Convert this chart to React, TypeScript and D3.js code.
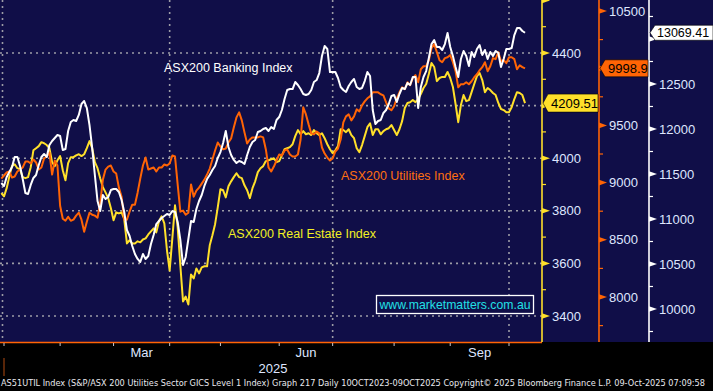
import React from 'react';
import * as d3 from 'd3';

const W = 713;
const H = 391;

// daily closes, one per ASX trading day; index 0 = first session of 2025, first value is 31 Dec 2024
const FIRST_DAY = -1;

const banking = [
  11400, 11367, 11467, 11522, 11578, 11689, 11689, 11589, 11444, 11289,
  11278, 11378, 11456, 11489, 11600, 11689, 11722, 11689, 11822, 11867,
  11900, 11933, 11922, 11767, 11778, 11978, 12078, 12100, 12089, 12156,
  12278, 12311, 12233, 12044, 11789, 11489, 11200, 11089, 11267, 11222,
  11244, 11322, 11333, 11333, 11300, 11211, 11078, 10878, 10811, 10700,
  10611, 10556, 10522, 10611, 10556, 10589, 10722, 10822, 10944, 10978,
  11011, 11033, 11056, 11044, 11089, 11078, 10967, 10767, 10489, 10578,
  10778, 10978, 10967, 11111, 11200, 11267, 11367, 11444, 11489, 11544,
  11589, 11678, 11744, 11844, 11978, 11800, 11711, 11656, 11622, 11644,
  11633, 11611, 11711, 11800, 11856, 11878, 11967, 11978, 12000, 12011,
  11978, 12022, 12000, 12100, 12133, 12211, 12333, 12433, 12444, 12444,
  12522, 12489, 12444, 12389, 12378, 12389, 12433, 12522, 12544, 12622,
  12811, 12922, 12889, 12633, 12633, 12633, 12567, 12467, 12433, 12411,
  12478, 12522, 12556, 12467, 12444, 12456, 12533, 12633, 12589, 12211,
  12056, 12089, 12100, 12178, 12211, 12278, 12367, 12378, 12300, 12389,
  12456, 12444, 12511, 12489, 12578, 12578, 12233, 12467, 12578, 12644,
  12789, 12944, 12989, 12911, 12911, 12878, 12944, 13067, 12911, 12811,
  12689, 12578, 12778, 12867, 12811, 12700, 12856, 12800, 12889, 12933,
  12822, 12878, 12778, 12856, 12811, 12867, 12844, 12689, 12778, 12889,
  12889, 12900, 13044, 13122, 13122, 13089, 13069.41,
];

const utilities = [
  9035, 9062, 9088, 9097, 9044, 9053, 9097, 9114, 9132, 9184,
  9184, 9167, 9202, 9176, 9114, 9132, 9211, 9228, 9263, 9070,
  9193, 9149, 8798, 8684, 8667, 8702, 8667, 8676, 8711, 8737,
  8676, 8570, 8658, 8737, 8719, 8711, 8693, 8816, 9026, 9114,
  9140, 9149, 9097, 9079, 8956, 8877, 8676, 8676, 8746, 8807,
  8807, 8912, 9035, 9149, 9219, 9114, 9123, 9132, 9097, 9132,
  9132, 9158, 9149, 9167, 9237, 9228, 8983, 8746, 8755, 8719,
  8737, 8983, 8877, 8930, 8956, 8991, 9026, 9070, 9123, 9202,
  9281, 9351, 9316, 9290, 9298, 9351, 9386, 9482, 9570, 9614,
  9544, 9439, 9342, 9377, 9395, 9395, 9395, 9404, 9395, 9290,
  9132, 9097, 9140, 9193, 9246, 9237, 9281, 9290, 9246, 9228,
  9228, 9246, 9377, 9658, 9596, 9509, 9430, 9421, 9447, 9430,
  9307, 9254, 9219, 9193, 9211, 9272, 9298, 9377, 9526, 9579,
  9596, 9544, 9579, 9640, 9623, 9675, 9710, 9737, 9754, 9789,
  9789, 9789, 9772, 9763, 9702, 9649, 9632, 9667, 9737, 9789,
  9833, 9816, 9877, 9851, 9912, 9939, 9877, 9991, 10017, 10017,
  10070, 10175, 10210, 10140, 10070, 10052, 10088, 10096, 10114, 10052,
  9974, 9833, 9860, 9860, 9877, 9860, 9886, 9921, 9947, 9982,
  10009, 10052, 9974, 10017, 10088, 10079, 10140, 10061, 10070, 10044,
  10096, 10096, 10079, 9991, 10026, 10009, 9998.9,
];

const realEstate = [
  3867, 3855, 3886, 3931, 3970, 3977, 3962, 3958, 3928, 3924,
  3928, 3966, 4030, 4038, 4046, 4061, 4057, 4050, 4038, 3985,
  3970, 3992, 4008, 3954, 3916, 3981, 4004, 4004, 4011, 4015,
  4008, 4015, 4038, 4065, 4038, 3985, 3962, 3924, 3890, 3870,
  3848, 3810, 3764, 3794, 3790, 3794, 3768, 3676, 3688, 3676,
  3676, 3684, 3680, 3691, 3695, 3710, 3722, 3733, 3718, 3760,
  3779, 3752, 3649, 3573, 3695, 3821, 3737, 3592, 3455, 3474,
  3444, 3558, 3543, 3581, 3562, 3585, 3589, 3589, 3669, 3707,
  3749, 3813, 3882, 3878, 3851, 3893, 3912, 3928, 3943, 3928,
  3924, 3897, 3878, 3848, 3886, 3912, 3947, 3962, 3970, 3989,
  3992, 3996, 4000, 3985, 3989, 4011, 4034, 4038, 4042, 4053,
  4084, 4107, 4091, 4103, 4091, 4095, 4088, 4107, 4095, 4088,
  4095, 4076, 4053, 4034, 4019, 4030, 4046, 4110, 4107, 4099,
  4110, 4088, 4076, 4038, 4023, 4050, 4084, 4118, 4133, 4088,
  4110, 4110, 4091, 4103, 4110, 4114, 4126, 4107, 4088, 4110,
  4141, 4191, 4210, 4213, 4221, 4213, 4225, 4244, 4267, 4282,
  4320, 4362, 4347, 4293, 4305, 4309, 4309, 4328, 4305, 4271,
  4206, 4137, 4202, 4240, 4217, 4221, 4251, 4282, 4312, 4324,
  4297, 4251, 4267, 4259, 4248, 4240, 4210, 4187, 4183, 4175,
  4175, 4194, 4225, 4251, 4248, 4240, 4209.51,
];

// trading-day index where each month begins
const monthStarts = [0, 21, 41, 62, 81, 103, 123, 146, 167, 189];
const monthNames = ['Jan', 'Feb', 'Mar', 'Apr', 'May', 'Jun', 'Jul', 'Aug', 'Sep', 'Oct'];
const labelledMonths = ['Mar', 'Jun', 'Sep'];
const gridMonths = ['Jan', 'Apr', 'Jul', 'Oct'];

const reTicks = [3400, 3600, 3800, 4000, 4200, 4400, 4600];
const reMinor = [3500, 3700, 3900, 4100, 4300, 4500];
const utTicks = [8000, 8500, 9000, 9500, 10000, 10500];
const utMinor = [7750, 8250, 8750, 9250, 9750, 10250];
const bkTicks = [10000, 10500, 11000, 11500, 12000, 12500, 13000];
const bkMinor = [9750, 10250, 10750, 11250, 11750, 12250, 12750, 13250];

const NAVY = '#100e48';
const WHITE = '#ffffff';
const ORANGE = '#ff6405';
const YELLOW = '#ffe02a';
const LABEL = '#dfe6ff';
const FONT = '"Liberation Sans", Arial, sans-serif';

const plotRight = 542;
const plotBottom = 342;
const reAxisX = 542;
const utAxisX = 599;
const bkAxisX = 649;

const x = d3.scaleLinear().domain([0, 189]).range([4, 509]);
const yRE = d3.scaleLinear().domain([3400, 4400]).range([316, 53]);
const yUT = d3.scaleLinear().domain([8000, 10500]).range([297, 11]);
const yBK = d3.scaleLinear().domain([10000, 13000]).range([309, 39]);

const lineFor = (scale: d3.ScaleLinear<number, number>) =>
  d3.line<number>()
    .x((_, i) => x(i + FIRST_DAY))
    .y((d) => scale(d));

const tri = (ax: number, y: number) => `M${ax},${y - 2.8}L${ax + 8},${y}L${ax},${y + 2.8}Z`;

const flag = (ax: number, y: number, w: number, h: number) =>
  `M${ax + 1},${y}L${ax + 6},${y - h / 2}L${ax + w},${y - h / 2}L${ax + w},${y + h / 2}L${ax + 6},${y + h / 2}Z`;

// labels under the last-value flags (or off the top) are not drawn
const Axis: React.FC<{
  ax: number;
  color: string;
  scale: d3.ScaleLinear<number, number>;
  ticks: number[];
  minor: number[];
  hidden: number[];
}> = ({ ax, color, scale, ticks, minor, hidden }) => (
  <g>
    <line x1={ax} x2={ax} y1={0} y2={plotBottom} stroke={color} strokeWidth={1.6} />
    {minor.map((v) => (
      <line key={'m' + v} x1={ax} x2={ax + 4} y1={scale(v)} y2={scale(v)} stroke={color} strokeWidth={1.2} />
    ))}
    {ticks.map((v) => (
      <g key={v}>
        <path d={tri(ax, scale(v))} fill={color} />
        {hidden.includes(v) ? null : (
          <text x={ax + 10} y={scale(v)} dy="0.36em" fill={LABEL} fontSize={13} fontFamily={FONT}>
            {v}
          </text>
        )}
      </g>
    ))}
  </g>
);

export default function App() {
  const reLine = lineFor(yRE)(realEstate) || '';
  const utLine = lineFor(yUT)(utilities) || '';
  const bkLine = lineFor(yBK)(banking) || '';

  const reLast = realEstate[realEstate.length - 1];
  const utLast = utilities[utilities.length - 1];
  const bkLast = banking[banking.length - 1];

  const gridX = gridMonths.map((m) => x(monthStarts[monthNames.indexOf(m)]));

  return (
    <div style={{ position: 'fixed', left: 0, top: 0, width: W, height: H, background: '#000' }}>
      <svg width={W} height={H} style={{ display: 'block' }}>
        <rect x={0} y={0} width={W} height={H} fill="#000" />
        <rect x={0} y={0} width={W} height={plotBottom} fill={NAVY} />
        <defs>
          <clipPath id="plot">
            <rect x={0} y={0} width={plotRight} height={plotBottom} />
          </clipPath>
        </defs>

        {/* grid */}
        <g stroke="#9c9ca6" strokeWidth={1.6} strokeDasharray="2 4">
          {reTicks.filter((v) => v <= 4400).map((v) => (
            <line key={v} x1={0} x2={plotRight} y1={yRE(v)} y2={yRE(v)} />
          ))}
          {gridX.map((gx, i) => (
            <line key={i} x1={gx - (i === 0 ? 1.5 : 0)} x2={gx - (i === 0 ? 1.5 : 0)} y1={0} y2={plotBottom} />
          ))}
        </g>

        {/* series */}
        <g clipPath="url(#plot)" fill="none" strokeWidth={2} strokeLinejoin="round">
          <path d={reLine} stroke={YELLOW} />
          <path d={utLine} stroke={ORANGE} />
          <path d={bkLine} stroke={WHITE} />
        </g>

        {/* series labels */}
        <g fontFamily={FONT} fontSize={12.5}>
          <text x={164} y={72} fill={WHITE}>ASX200 Banking Index</text>
          <text x={341} y={180} fill="#ff7010">ASX200 Utilities Index</text>
          <text x={228} y={238} fill="#f2f022">ASX200 Real Estate Index</text>
        </g>

        {/* watermark */}
        <rect x={376.5} y={295.5} width={157} height={18} fill={NAVY} stroke={WHITE} strokeWidth={1.3} />
        <text x={455} y={309} textAnchor="middle" fill="#22e0e6" fontFamily={FONT} fontSize={13.5}
          textLength={151} lengthAdjust="spacingAndGlyphs">
          www.marketmatters.com.au
        </text>

        {/* bottom axis */}
        <line x1={0} x2={plotRight} y1={plotBottom + 0.5} y2={plotBottom + 0.5} stroke={ORANGE} strokeWidth={1.6} />
        {monthStarts.map((d, i) => (
          <line key={i} x1={x(d)} x2={x(d)} y1={plotBottom + 1} y2={plotBottom + 4} stroke="#c8c8d0" strokeWidth={1} />
        ))}
        {labelledMonths.map((m) => {
          const i = monthNames.indexOf(m);
          const mid = (monthStarts[i] + monthStarts[i + 1]) / 2;
          return (
            <text key={m} x={x(mid)} y={357} textAnchor="middle" fill={LABEL} fontFamily={FONT} fontSize={13}>
              {m}
            </text>
          );
        })}
        <line x1={4} x2={4} y1={358} y2={376} stroke="#b04a10" strokeWidth={1} />
        <text x={plotRight / 2 + 2} y={373} textAnchor="middle" fill={LABEL} fontFamily={FONT} fontSize={13}>
          2025
        </text>

        {/* right axes */}
        <Axis ax={reAxisX} color={YELLOW} scale={yRE} ticks={reTicks} minor={reMinor} hidden={[4200, 4600]} />
        <Axis ax={utAxisX} color={ORANGE} scale={yUT} ticks={utTicks} minor={utMinor} hidden={[10000]} />
        <Axis ax={bkAxisX} color={WHITE} scale={yBK} ticks={bkTicks} minor={bkMinor} hidden={[13000]} />

        {/* last value flags */}
        <g fontFamily={FONT} fontSize={13}>
          <path d={flag(reAxisX, yRE(reLast), 56, 18)} fill={YELLOW} stroke="#000" strokeWidth={0.6} />
          <text x={reAxisX + 9} y={yRE(reLast)} dy="0.36em" fill="#000">{reLast.toFixed(2)}</text>
          <path d={flag(utAxisX, yUT(utLast), 49, 17)} fill={ORANGE} stroke="#000" strokeWidth={0.6} />
          <text x={utAxisX + 9} y={yUT(utLast)} dy="0.36em" fill="#000">{utLast.toFixed(1)}</text>
          <path d={flag(bkAxisX, yBK(bkLast), 64, 15)} fill={WHITE} stroke="#000" strokeWidth={0.6} />
          <text x={bkAxisX + 8} y={yBK(bkLast)} dy="0.36em" fill="#000" fontSize={12.5}>{bkLast.toFixed(2)}</text>
        </g>

        {/* footer */}
        <text x={1} y={385.5} fill="#e8e8ee" fontFamily='"DejaVu Sans Condensed", "DejaVu Sans", sans-serif' fontSize={9}
          textLength={704} lengthAdjust="spacingAndGlyphs">
          AS51UTIL Index (S&amp;P/ASX 200 Utilities Sector GICS Level 1 Index) Graph 217 Daily 10OCT2023-09OCT2025  Copyright© 2025 Bloomberg Finance L.P.  09-Oct-2025 07:09:58
        </text>
      </svg>
    </div>
  );
}
